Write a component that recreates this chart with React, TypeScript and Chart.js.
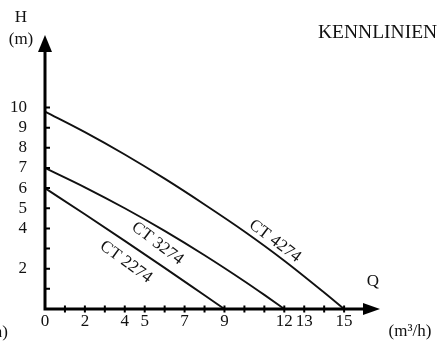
import React, { useEffect, useRef } from "react";
import { Chart, registerables } from "chart.js";

Chart.register(...registerables);

// Q (m³/h) and H (m)
const q4274 = [0, 2, 4, 6, 8, 10, 12, 14, 15];
const h4274 = [9.8, 8.78, 7.67, 6.47, 5.19, 3.85, 2.4, 0.82, 0];
const q3274 = [0, 2, 4, 6, 8, 10, 11, 12];
const h3274 = [7.0, 6.04, 5.0, 3.88, 2.67, 1.38, 0.7, 0];
const q2274 = [0, 2, 4, 6, 8, 9];
const h2274 = [6.0, 4.7, 3.38, 2.04, 0.68, 0];
const seriesNames = ["CT 4274", "CT 3274", "CT 2274"];

const xTicks = [0, 1, 2, 3, 4, 5, 6, 7, 8, 9, 10, 11, 12, 13, 14, 15];
const xTickLabels = ["0", "2", "4", "5", "7", "9", "12", "13", "15"];
const yTicks = [0, 1, 2, 3, 4, 5, 6, 7, 8, 9, 10];
const yTickLabels = ["2", "4", "5", "6", "7", "8", "9", "10"];

const title = "KENNLINIEN";
const yAxisTitle = ["H", "(m)"];
const xAxisTitle = ["Q", "(m³/h)"];

const FONT = "'Liberation Serif', 'Times New Roman', serif";
const INK = "#111";

const pts = (qs: number[], hs: number[]) => qs.map((q, i) => ({ x: q, y: hs[i] }));

const decorPlugin = {
  id: "decor",
  afterDraw(chart: any) {
    const { ctx, chartArea, scales } = chart;
    const xs = scales.x;
    const ys = scales.y;
    const x0 = xs.getPixelForValue(0);
    const y0 = ys.getPixelForValue(0);
    ctx.save();
    ctx.strokeStyle = "#000";
    ctx.fillStyle = "#000";
    // axes lines
    ctx.lineWidth = 3;
    ctx.beginPath();
    ctx.moveTo(x0, y0 + 1.5);
    ctx.lineTo(x0, chartArea.top + 10);
    ctx.moveTo(x0 - 1.5, y0);
    ctx.lineTo(chartArea.right - 10, y0);
    ctx.stroke();
    // arrows
    ctx.beginPath();
    ctx.moveTo(x0, chartArea.top);
    ctx.lineTo(x0 - 7, chartArea.top + 17);
    ctx.lineTo(x0 + 7, chartArea.top + 17);
    ctx.closePath();
    ctx.fill();
    ctx.beginPath();
    ctx.moveTo(chartArea.right, y0);
    ctx.lineTo(chartArea.right - 17, y0 - 6);
    ctx.lineTo(chartArea.right - 17, y0 + 6);
    ctx.closePath();
    ctx.fill();
    // tick marks
    ctx.lineWidth = 2;
    ctx.beginPath();
    xTicks.forEach((v) => {
      if (v === 0) return;
      const px = xs.getPixelForValue(v);
      ctx.moveTo(px, y0 - 3.5);
      ctx.lineTo(px, y0 + 3.5);
    });
    yTicks.forEach((v) => {
      if (v === 0) return;
      const py = ys.getPixelForValue(v);
      ctx.moveTo(x0 - 1, py);
      ctx.lineTo(x0 + 5, py);
    });
    ctx.stroke();

    // texts
    ctx.fillStyle = INK;
    ctx.textBaseline = "middle";
    ctx.textAlign = "center";
    ctx.font = `17px ${FONT}`;
    ctx.fillText(yAxisTitle[0], 21, 18);
    ctx.fillText(yAxisTitle[1], 21, 40);
    ctx.fillText(xAxisTitle[0], 373, 282);
    ctx.fillText(xAxisTitle[1], 410, 332);
    ctx.textAlign = "right";
    ctx.fillText("h)", 8, 333);
    ctx.textAlign = "left";
    ctx.font = `19.5px ${FONT}`;
    ctx.fillText(title, 318, 33);

    // series labels along curves
    const labels = [
      { t: seriesNames[0], q: 11.53, h: 3.37, a: 37 },
      { t: seriesNames[1], q: 5.64, h: 3.25, a: 37 },
      { t: seriesNames[2], q: 4.06, h: 2.33, a: 36 },
    ];
    ctx.font = `17px ${FONT}`;
    ctx.textAlign = "center";
    labels.forEach((l) => {
      ctx.save();
      ctx.translate(xs.getPixelForValue(l.q), ys.getPixelForValue(l.h));
      ctx.rotate((l.a * Math.PI) / 180);
      ctx.fillText(l.t, 0, 0);
      ctx.restore();
    });
    ctx.restore();
  },
};

export default function App() {
  const ref = useRef<HTMLCanvasElement>(null);
  useEffect(() => {
    if (!ref.current) return;
    const mk = (label: string, qs: number[], hs: number[]) => ({
      label,
      data: pts(qs, hs),
      borderColor: "#111",
      borderWidth: 1.9,
      pointRadius: 0,
      fill: false,
      clip: false as any,
      cubicInterpolationMode: "monotone" as const,
    });
    const chart = new Chart(ref.current, {
      type: "line",
      data: {
        datasets: [
          mk(seriesNames[0], q4274, h4274),
          mk(seriesNames[1], q3274, h3274),
          mk(seriesNames[2], q2274, h2274),
        ],
      },
      options: {
        animation: false,
        responsive: false,
        devicePixelRatio: 1,
        layout: { padding: { top: 35, right: 65, left: 0, bottom: 0 } },
        plugins: { legend: { display: false }, tooltip: { enabled: false }, title: { display: false } },
        scales: {
          x: {
            type: "linear",
            min: 0,
            max: 16.8,
            afterBuildTicks: (axis: any) => {
              axis.ticks = xTicks.map((v) => ({ value: v }));
            },
            afterFit: (s: any) => {
              s.height = 32;
            },
            grid: { display: false, drawTicks: false },
            border: { display: false },
            ticks: {
              autoSkip: false,
              maxRotation: 0,
              padding: 2,
              color: INK,
              font: { family: FONT, size: 17 },
              callback: (v: any) => (xTickLabels.includes(String(v)) ? String(v) : ""),
            },
          },
          y: {
            type: "linear",
            min: 0,
            max: 13.6,
            afterBuildTicks: (axis: any) => {
              axis.ticks = yTicks.map((v) => ({ value: v }));
            },
            afterFit: (s: any) => {
              s.width = 45;
            },
            grid: { display: false, drawTicks: false },
            border: { display: false },
            ticks: {
              autoSkip: false,
              padding: 18,
              color: INK,
              font: { family: FONT, size: 17 },
              callback: (v: any) => (yTickLabels.includes(String(v)) ? String(v) : ""),
            },
          },
        },
      },
      plugins: [decorPlugin],
    });
    return () => chart.destroy();
  }, []);
  return (
    <div style={{ position: "absolute", left: 0, top: 0, width: 445, height: 341, background: "#fff" }}>
      <canvas ref={ref} width={445} height={341} />
    </div>
  );
}
